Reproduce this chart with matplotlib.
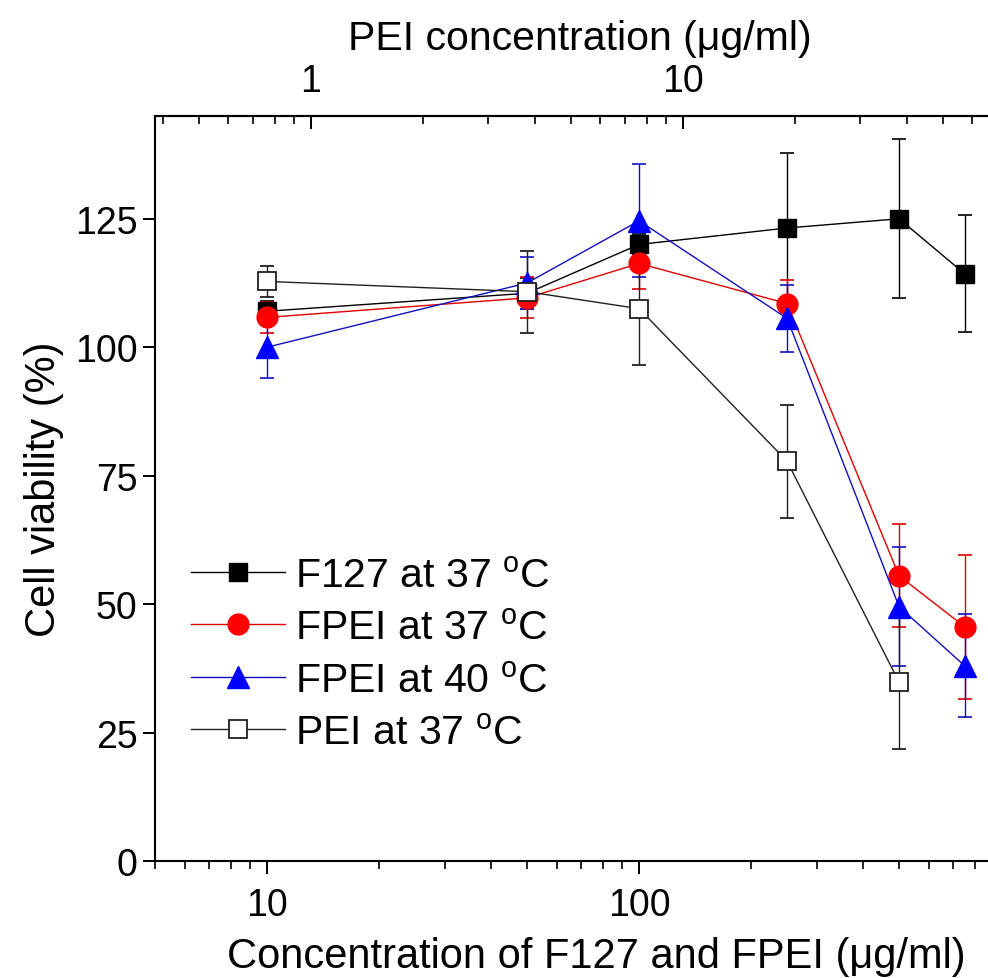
import matplotlib
matplotlib.use('Agg')
import matplotlib.pyplot as plt
from matplotlib.lines import Line2D
from matplotlib.ticker import LogLocator, NullFormatter, FixedLocator, FuncFormatter

plt.rcParams['font.family'] = ['Liberation Sans', 'DejaVu Sans']
plt.rcParams['mathtext.fontset'] = 'custom'
plt.rcParams['mathtext.rm'] = 'Liberation Sans'
plt.rcParams['mathtext.it'] = 'Liberation Sans'

conc = [10, 50, 100, 250, 500, 750]
conc_pei = [10, 50, 100, 250, 500]

f127_37 = [107, 110.5, 120, 123.2, 125, 114.3]
f127_37_err = [2, 3, 2, 14.5, 15.5, 11.4]
fpei_37 = [105.8, 109.6, 116.3, 108.5, 55.5, 45.6]
fpei_37_err = [3, 4, 5, 4.5, 10, 14]
fpei_40 = [100, 112.5, 124.6, 105.6, 49.5, 38]
fpei_40_err = [6, 5, 11, 6.5, 11.6, 10]
pei_37 = [112.8, 110.8, 107.5, 77.8, 34.8]
pei_37_err = [3, 8, 11, 11, 13]

labels = [r'F127 at 37 $^{\mathrm{o}}$C', r'FPEI at 37 $^{\mathrm{o}}$C',
          r'FPEI at 40 $^{\mathrm{o}}$C', r'PEI at 37 $^{\mathrm{o}}$C']
ratio = 13.1   # F127 conc per PEI conc (top axis)

fig = plt.figure(figsize=(9.88, 9.79), dpi=100)
ax = fig.add_axes([0.157, 0.1195, 0.843, 0.761])

styles = [
    dict(color='black', marker='s', ms=13, mfc='black', mec='black'),
    dict(color='#e00000', marker='o', ms=15, mfc='red', mec='red'),
    dict(color='#1010c0', marker='^', ms=16, mfc='blue', mec='blue'),
    dict(color='#202020', marker='s', ms=12.5, mfc='white', mec='#202020', mew=1.3),
]
series = [(conc, f127_37, f127_37_err), (conc, fpei_37, fpei_37_err),
          (conc, fpei_40, fpei_40_err), (conc_pei, pei_37, pei_37_err)]

for (x, y, e), st in zip(series, styles):
    ax.errorbar(x, y, yerr=e, lw=1.0, elinewidth=1.0, capsize=5, capthick=1.2, **st)

ax.set_xscale('log')
ax.set_xlim(5, 867)
ax.set_ylim(0, 145)
ax.set_yticks([0, 25, 50, 75, 100, 125])
ax.xaxis.set_major_locator(FixedLocator([10, 100]))
ax.xaxis.set_major_formatter(FuncFormatter(lambda v, p: '%d' % v))
ax.xaxis.set_minor_locator(LogLocator(base=10, subs=range(2, 10)))
ax.xaxis.set_minor_formatter(NullFormatter())

ax.spines['right'].set_visible(False)
for s in ['left', 'bottom', 'top']:
    ax.spines[s].set_linewidth(1.5)
ax.tick_params(axis='both', which='major', direction='out', length=9, width=1.4,
               labelsize=27, top=False, right=False)
ax.tick_params(axis='x', which='minor', direction='out', length=5.5, width=1.2, top=False)
ax.tick_params(axis='x', pad=10)

ax.set_xlabel('Concentration of F127 and FPEI (μg/ml)', fontsize=30, labelpad=6)
ax.xaxis.set_label_coords(0.53, -0.1)
ax.set_ylabel('Cell viability (%)', fontsize=30, labelpad=8)

top = ax.secondary_xaxis('top', functions=(lambda x: x / ratio, lambda x: x * ratio))
top.xaxis.set_major_locator(FixedLocator([1, 10]))
top.xaxis.set_major_formatter(FuncFormatter(lambda v, p: '%d' % v))
top.xaxis.set_minor_locator(LogLocator(base=10, subs=range(2, 10)))
top.xaxis.set_minor_formatter(NullFormatter())
top.spines['top'].set_linewidth(1.5)
top.tick_params(which='major', direction='in', length=9, width=1.4, labelsize=27, pad=12)
top.tick_params(which='minor', direction='in', length=5.5, width=1.2)
top.set_xlabel('PEI concentration (μg/ml)', fontsize=29.5, labelpad=10)
top.xaxis.label.set_x(0.51)

handles = [Line2D([], [], lw=1.0, **st) for st in styles]
ax.legend(handles, labels, loc='lower left', bbox_to_anchor=(0.023, 0.125), frameon=False,
          fontsize=29.5, handlelength=2.3, handletextpad=0.25, labelspacing=0.35,
          borderaxespad=0)

fig.savefig('out.png', dpi=100)
